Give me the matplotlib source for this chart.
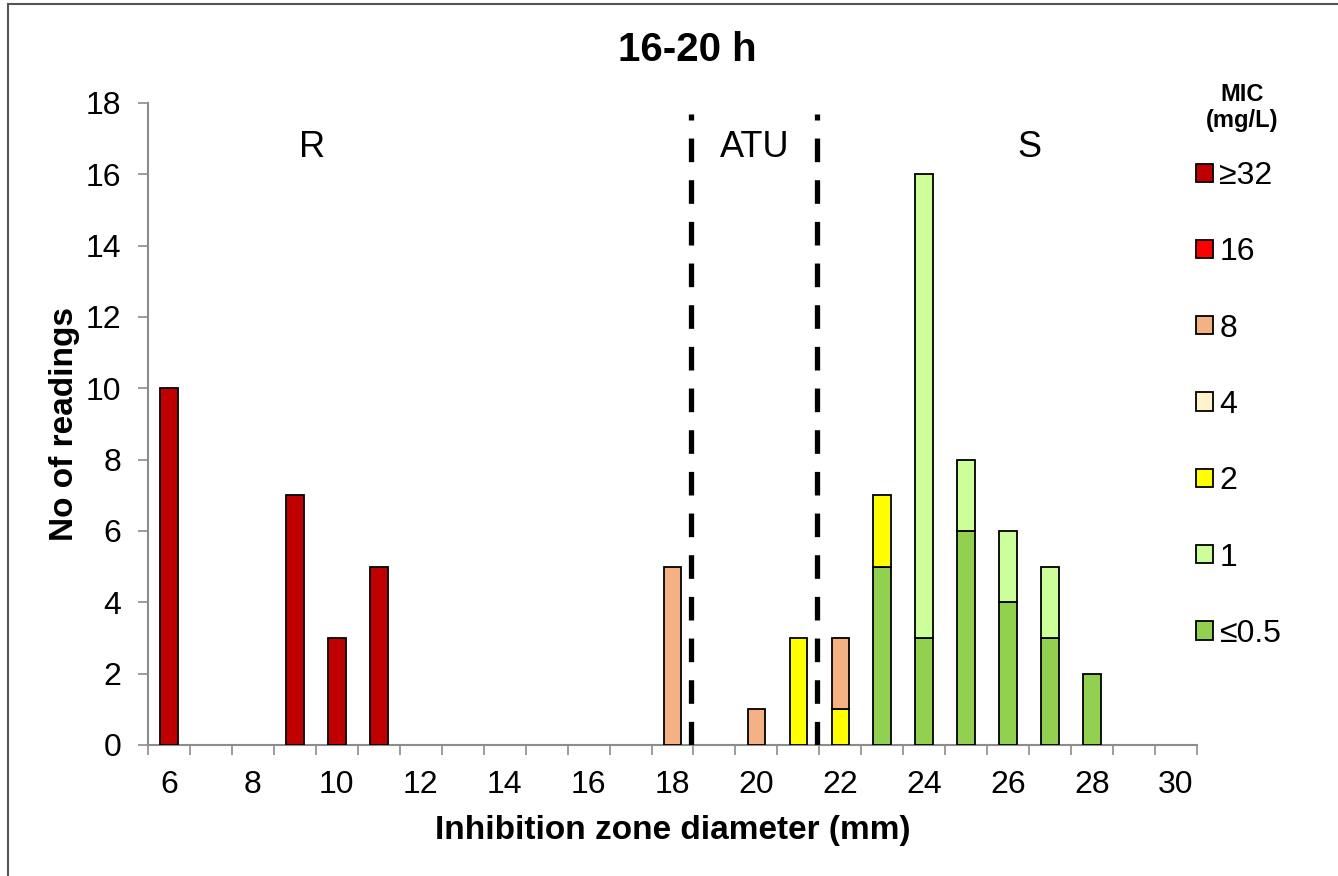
import matplotlib
matplotlib.use("Agg")
import matplotlib.pyplot as plt
from matplotlib.patches import Patch
from matplotlib.lines import Line2D
import numpy as np

plt.rcParams['font.family'] = ['Liberation Sans', 'DejaVu Sans']
plt.rcParams['lines.scale_dashes'] = False

diameters = list(range(6, 31))
#            6  7  8  9 10 11 12 13 14 15 16 17 18 19 20 21 22 23 24 25 26 27 28 29 30
le05    = [0, 0, 0, 0, 0, 0, 0, 0, 0, 0, 0, 0, 0, 0, 0, 0, 0, 5, 3, 6, 4, 3, 2, 0, 0]
one     = [0, 0, 0, 0, 0, 0, 0, 0, 0, 0, 0, 0, 0, 0, 0, 0, 0, 0, 13, 2, 2, 2, 0, 0, 0]
two     = [0, 0, 0, 0, 0, 0, 0, 0, 0, 0, 0, 0, 0, 0, 0, 3, 1, 2, 0, 0, 0, 0, 0, 0, 0]
four    = [0] * 25
eight   = [0, 0, 0, 0, 0, 0, 0, 0, 0, 0, 0, 0, 5, 0, 1, 0, 2, 0, 0, 0, 0, 0, 0, 0, 0]
sixteen = [0] * 25
ge32    = [10, 0, 0, 7, 3, 5, 0, 0, 0, 0, 0, 0, 0, 0, 0, 0, 0, 0, 0, 0, 0, 0, 0, 0, 0]

series = [("≤0.5", le05, "#92D050"),
          ("1", one, "#CCFF99"),
          ("2", two, "#FFFF00"),
          ("4", four, "#FFF2CC"),
          ("8", eight, "#F4B183"),
          ("16", sixteen, "#FF0000"),
          ("≥32", ge32, "#C00000")]

breakpoints = [18.45, 21.45]
zone_labels = [("R", 9.4), ("ATU", 19.95), ("S", 26.5)]

fig = plt.figure(figsize=(13.38, 8.76), dpi=100)
ax = fig.add_axes([148/1338, 131/876, (1197-148)/1338, (745-103)/876])

x = np.array(diameters, dtype=float)
bottom = np.zeros(len(x))
for name, vals, col in series:
    v = np.array(vals, dtype=float)
    mask = v > 0
    ax.bar(x[mask], v[mask], width=0.42, bottom=bottom[mask], color=col,
           edgecolor="black", linewidth=1.3, zorder=3)
    bottom += v

for bp in breakpoints:
    ax.plot([bp, bp], [0, 17.7], color="black", linewidth=3.8,
            dashes=(17, 13), zorder=4, dash_capstyle='butt')

for txt, xp in zone_labels:
    ax.text(xp, 16.75, txt, ha="center", va="center", fontsize=26)

ax.set_xlim(5.5, 30.5)
ax.set_ylim(0, 18)
ax.set_yticks(np.arange(0, 19, 2))
ax.set_xticks(np.arange(5.5, 31, 1.0))
ax.set_xticklabels([])
ax.set_xticks(np.arange(6, 31, 2), minor=True)
ax.set_xticklabels([str(v) for v in range(6, 31, 2)], minor=True)
ax.tick_params(axis="x", which="major", length=7, width=1.2, color="#8c8c8c", direction="out")
ax.tick_params(axis="x", which="minor", length=0, pad=18, labelsize=23)
ax.tick_params(axis="y", length=7, width=1.2, color="#8c8c8c", direction="out", pad=12, labelsize=23)
for s in ["top", "right"]:
    ax.spines[s].set_visible(False)
for s in ["left", "bottom"]:
    ax.spines[s].set_color("#8c8c8c")
    ax.spines[s].set_linewidth(1.5)

ax.set_xlabel("Inhibition zone diameter (mm)", fontsize=24, fontweight="bold", labelpad=11)
ax.set_ylabel("No of readings", fontsize=24, fontweight="bold", labelpad=4)
fig.text(687/1338, 1 - 50/876, "16-20 h", ha="center", va="center", fontsize=29, fontweight="bold")

handles = [Patch(facecolor=col, edgecolor="black", linewidth=1.3, label=name)
           for name, vals, col in series[::-1]]
leg = ax.legend(handles=handles, loc="upper left", bbox_to_anchor=(1180/1338, 1 - 145/876),
                bbox_transform=fig.transFigure, frameon=False, fontsize=23,
                handlelength=0.53, handleheight=0.5, handletextpad=0.2,
                labelspacing=1.45, borderpad=0)
fig.text(1242/1338, 1 - 107.5/876, "MIC\n(mg/L)", ha="center", va="center",
         fontsize=17, fontweight="bold", linespacing=1.2, multialignment="center")

fig.add_artist(Line2D([8/1338, 8/1338], [0, 1 - 4/876], color="#555555", linewidth=1.5))
fig.add_artist(Line2D([8/1338, 1], [1 - 4/876, 1 - 4/876], color="#555555", linewidth=1.5))

fig.savefig("out.png", dpi=100)
